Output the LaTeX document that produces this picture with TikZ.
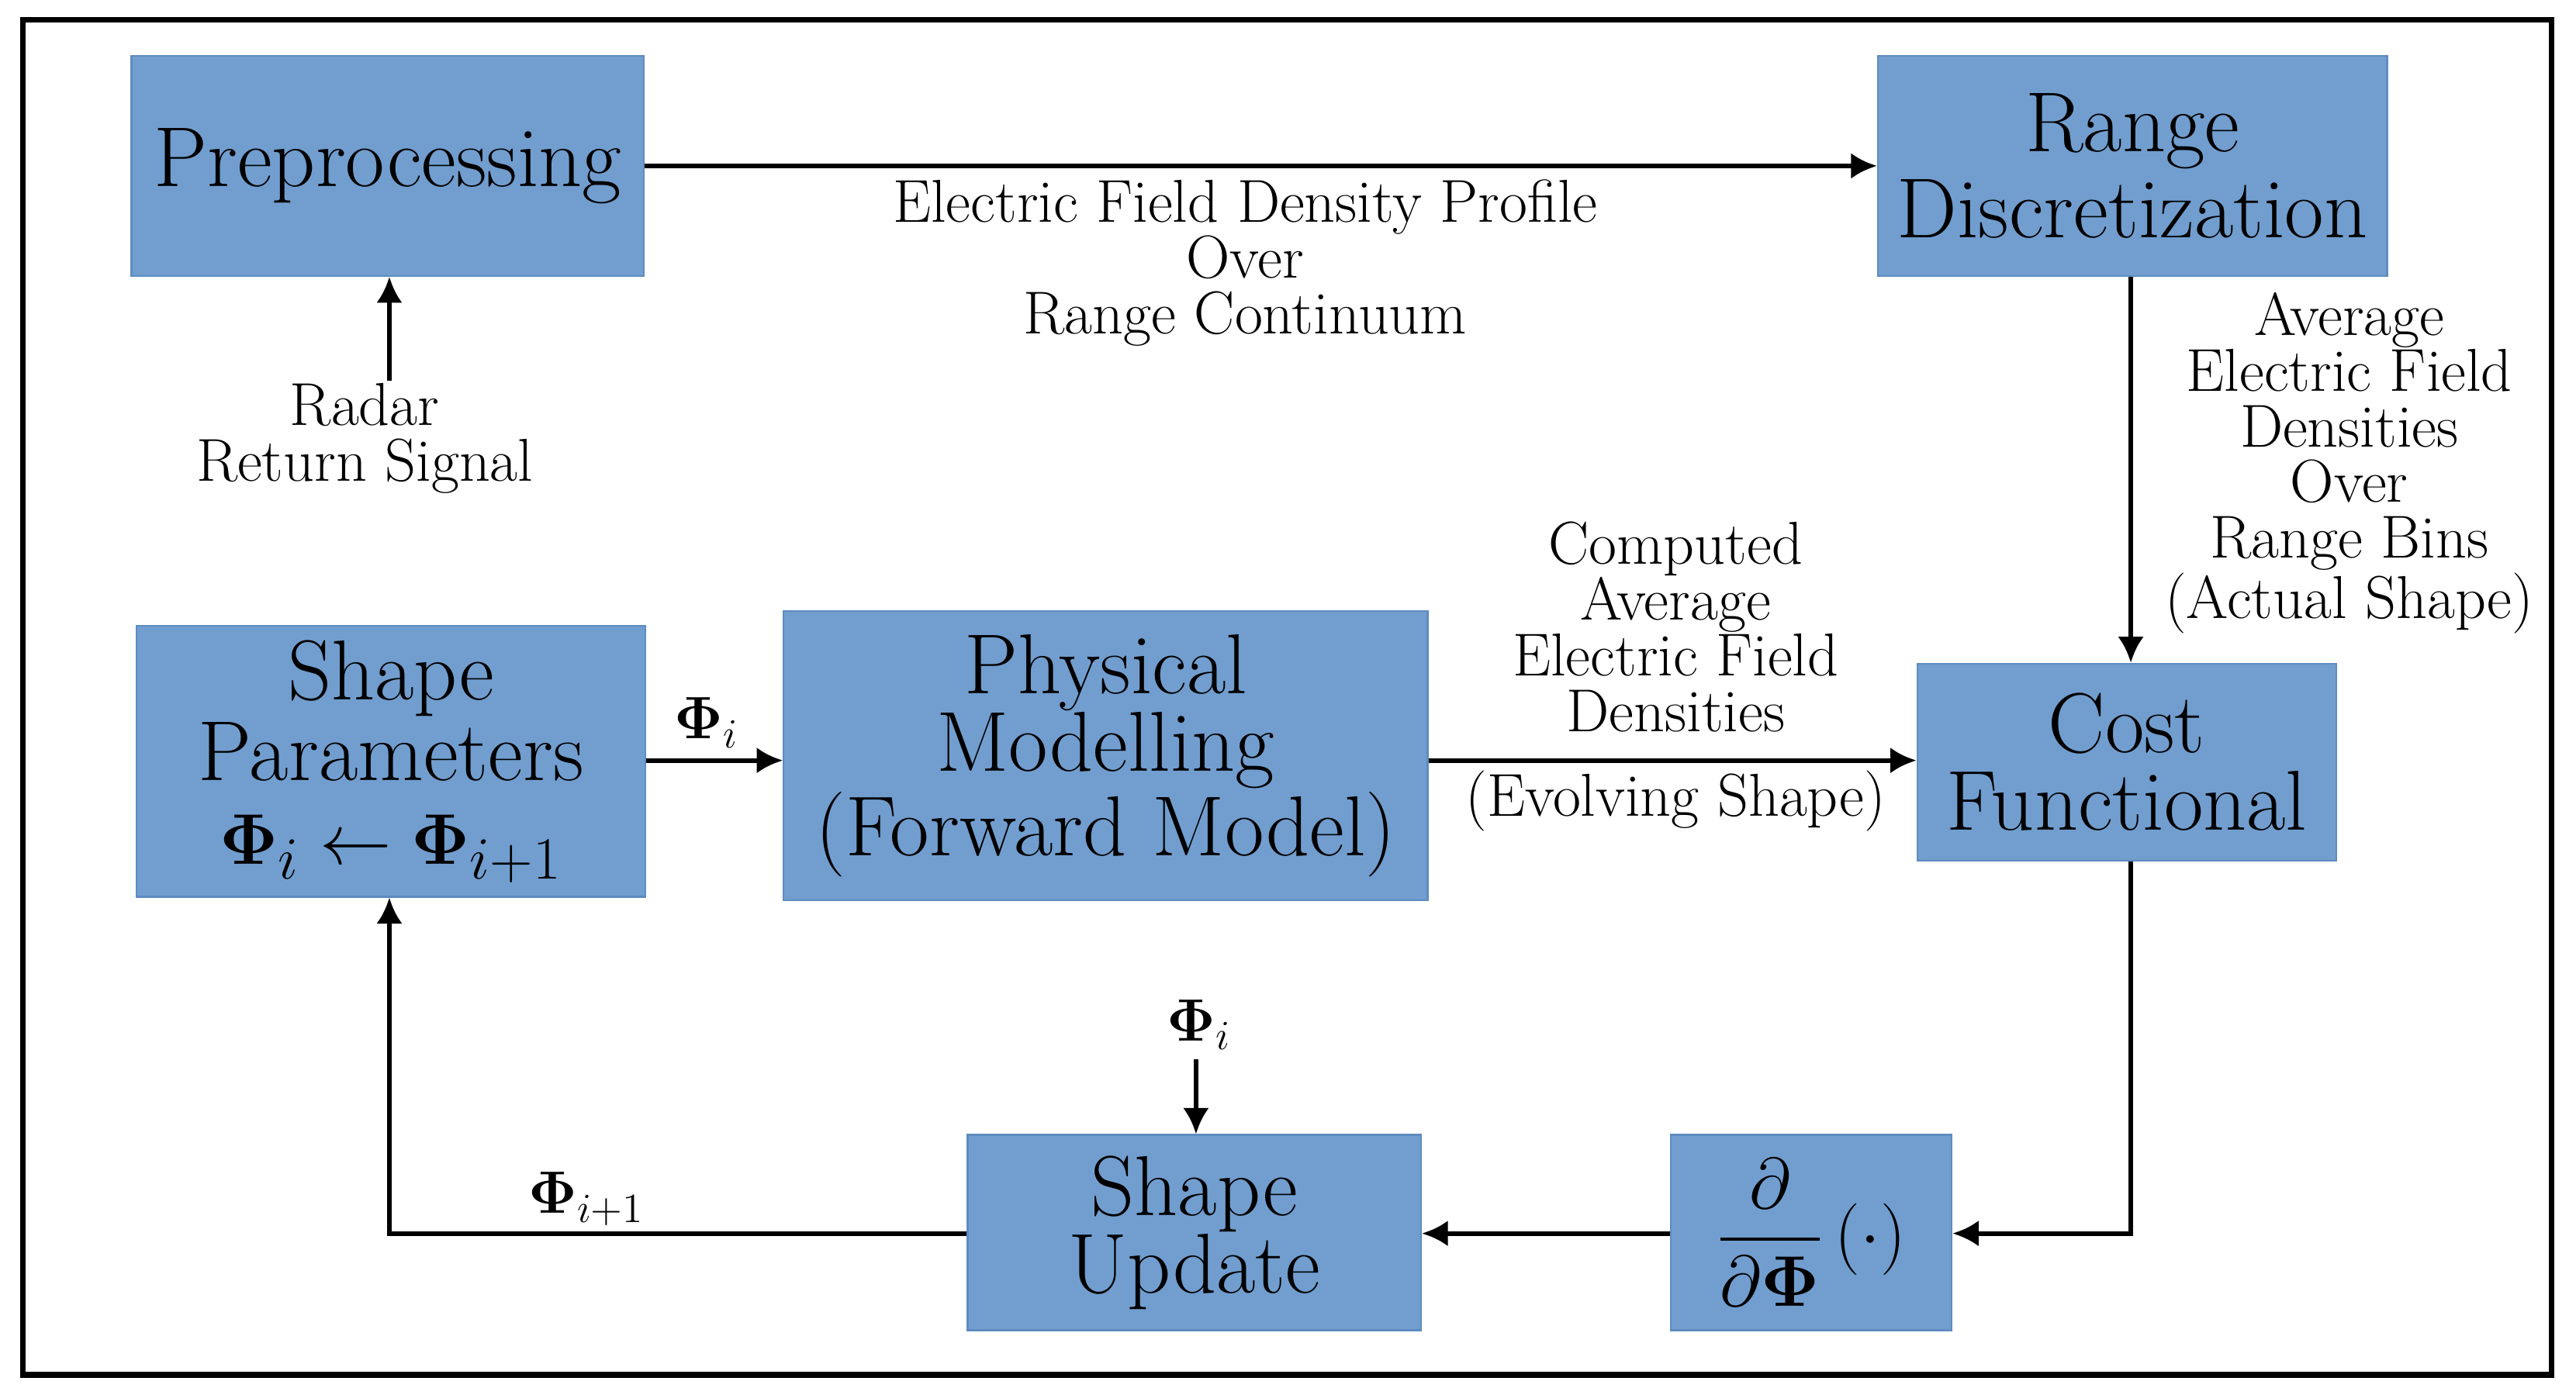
\documentclass[tikz,border=0pt]{standalone}
\usepackage{amsmath,bm}
\usetikzlibrary{arrows.meta,calc}
\definecolor{boxc}{HTML}{719ECF}
\definecolor{boxd}{HTML}{5E8CC0}
\begin{document}
\begin{tikzpicture}[x=0.02cm,y=-0.02cm,
  box/.style={fill=boxc,draw=boxd,line width=0.6pt,align=center,font=\fontsize{29.5}{27}\selectfont,inner sep=0pt},
  lbl/.style={align=center,font=\fontsize{21}{19.3}\selectfont,inner sep=0pt},
  arr/.style={line width=1.6pt,-{Latex[length=9pt,width=9pt]}}]
\useasboundingbox (0,0) rectangle (1568,849);
\fill[white] (0,0) rectangle (1568,849);
\draw[line width=2pt] (14,12) rectangle (1553,837);
\node[box,minimum width=312*0.02cm,minimum height=134*0.02cm] (pre) at (236,101) {Preprocessing};
\node[box,minimum width=310*0.02cm,minimum height=134*0.02cm] (rd) at (1298,101) {Range\\[3pt]Discretization};
\node[box,minimum width=310*0.02cm,minimum height=165*0.02cm] (sp) at (238,463.5) {Shape\\[1pt]Parameters\\[2pt]$\bm{\Phi}_i\leftarrow\bm{\Phi}_{i+1}$};
\node[box,minimum width=392*0.02cm,minimum height=176*0.02cm] (pm) at (673,460) {Physical\\Modelling\\(Forward Model)};
\node[box,minimum width=255*0.02cm,minimum height=120*0.02cm] (cf) at (1294.5,464) {Cost\\Functional};
\node[box,minimum width=171*0.02cm,minimum height=119*0.02cm] (dd) at (1102.5,750.5) {$\dfrac{\partial}{\partial\bm{\Phi}}\left(\cdot\right)$};
\node[box,minimum width=276*0.02cm,minimum height=119*0.02cm] (su) at (727,750.5) {Shape\\Update};
\coordinate (rs) at (237,232);
\coordinate (pt) at (728,645);
\coordinate (c1) at (1297,751);
\coordinate (c2) at (237,751);
\draw[arr] (pre.east |- 0,101) -- (rd.west |- 0,101);
\node[lbl] at (758,160) {Electric Field Density Profile\\Over\\Range Continuum};
\draw[arr] (rs) -- (pre.south -| rs);
\node[lbl] at (222,267) {Radar\\Return Signal};
\draw[arr] (rd.south -| 1297,0) -- (cf.north -| 1297,0);
\node[lbl] at (1430,282) {Average\\Electric Field\\Densities\\Over\\Range Bins\\(Actual Shape)};
\draw[arr] (sp.east |- 0,463) -- (pm.west |- 0,463);
\node[lbl] at (430,440) {$\bm{\Phi}_i$};
\draw[arr] (pm.east |- 0,463) -- (cf.west |- 0,463);
\node[lbl] at (1020,412) {Computed\\Average\\Electric Field\\Densities\\[10pt](Evolving Shape)};
\draw[arr] (cf.south -| c1) -- (c1) -- (dd.east |- c1);
\draw[arr] (dd.west |- 0,751) -- (su.east |- 0,751);
\draw[arr] (su.west |- c2) -- (c2) -- (sp.south -| c2);
\node[lbl] at (357,730) {$\bm{\Phi}_{i+1}$};
\node[lbl] at (730,624) {$\bm{\Phi}_i$};
\draw[arr] (pt) -- (su.north -| pt);
\end{tikzpicture}
\end{document}
